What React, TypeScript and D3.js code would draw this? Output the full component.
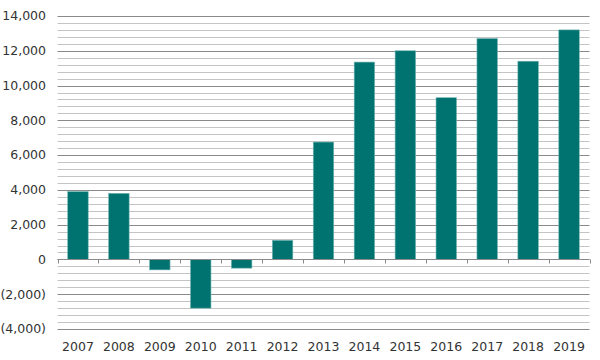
import React, { useEffect, useRef } from 'react'
import * as d3 from 'd3'

const years = ['2007', '2008', '2009', '2010', '2011', '2012', '2013', '2014', '2015', '2016', '2017', '2018', '2019']
const values = [3900, 3800, -600, -2800, -500, 1100, 6750, 11350, 12000, 9300, 12700, 11400, 13200]
const majorTicks = [-4000, -2000, 0, 2000, 4000, 6000, 8000, 10000, 12000, 14000]

const fmt = (v: number) => {
    if (v === 0) return '0'
    const s = d3.format(',')(Math.abs(v))
    return v < 0 ? `(${s})` : s
}

const App = () => {
    const svgRef = useRef<SVGSVGElement>(null)

    useEffect(() => {
        const svg = d3.select(svgRef.current)
        svg.selectAll('*').remove()

        const left = 57.5
        const right = 589.5
        const top = 16
        const bottom = 329

        const x = d3.scaleBand<string>().domain(years).range([left, right]).paddingInner(0.5).paddingOuter(0.25)
        const y = d3.scaleLinear().domain([-4000, 14000]).range([bottom, top])

        const minor = d3.range(-4000, 14001, 400)
        svg.append('g')
            .selectAll('line')
            .data(minor)
            .join('line')
            .attr('x1', left)
            .attr('x2', right)
            .attr('y1', (d) => Math.round(y(d)) + 0.5)
            .attr('y2', (d) => Math.round(y(d)) + 0.5)
            .attr('stroke', (d) => (d % 2000 === 0 ? '#8a8a8a' : '#c4c4c4'))
            .attr('stroke-width', 1)

        svg.append('g')
            .selectAll('rect')
            .data(values)
            .join('rect')
            .attr('x', (_, i) => x(years[i])!)
            .attr('width', x.bandwidth())
            .attr('y', (d) => y(Math.max(0, d)))
            .attr('height', (d) => Math.abs(y(d) - y(0)))
            .attr('fill', '#007370')
            .attr('stroke', '#6fb5b1')
            .attr('stroke-width', 0.6)

        // zero axis with ticks
        const y0 = Math.round(y(0)) + 0.5
        svg.append('line')
            .attr('x1', left).attr('x2', right)
            .attr('y1', y0).attr('y2', y0)
            .attr('stroke', '#8a8a8a')
        const step = x.step()
        const bounds = d3.range(0, years.length + 1).map((i) => left + i * (right - left) / years.length)
        svg.append('g')
            .selectAll('line')
            .data(bounds)
            .join('line')
            .attr('x1', (d) => Math.round(d) + 0.5)
            .attr('x2', (d) => Math.round(d) + 0.5)
            .attr('y1', y0)
            .attr('y2', y0 + 4)
            .attr('stroke', '#8a8a8a')
        void step

        svg.append('g')
            .selectAll('text')
            .data(majorTicks)
            .join('text')
            .attr('x', 46)
            .attr('y', (d) => y(d))
            .attr('dy', '0.35em')
            .attr('text-anchor', 'end')
            .attr('font-family', 'DejaVu Sans')
            .attr('font-size', 12.5)
            .attr('fill', '#333')
            .text((d) => fmt(d))

        svg.append('g')
            .selectAll('text')
            .data(years)
            .join('text')
            .attr('x', (d) => x(d)! + x.bandwidth() / 2)
            .attr('y', 351)
            .attr('text-anchor', 'middle')
            .attr('font-family', 'DejaVu Sans')
            .attr('font-size', 12.5)
            .attr('fill', '#333')
            .text((d) => d)
    }, [])

    return (
        <svg ref={svgRef} width={600} height={360} style={{ position: 'absolute', left: 0, top: 0 }}></svg>
    )
}

export default App
